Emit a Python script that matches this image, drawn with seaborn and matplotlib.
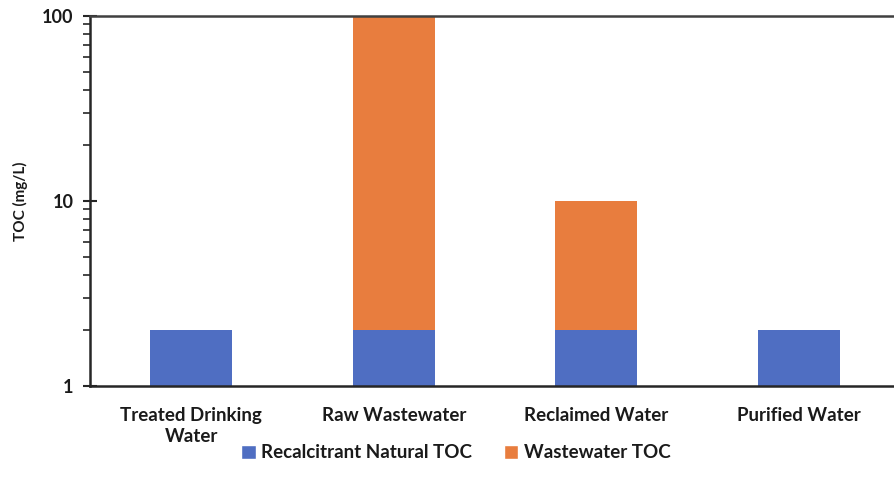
import matplotlib
matplotlib.use("Agg")
import matplotlib.pyplot as plt
import seaborn as sns
import pandas as pd
import numpy as np
from matplotlib.patches import Patch
from matplotlib.ticker import LogLocator, FixedLocator, NullFormatter

categories = ["Treated Drinking\nWater", "Raw Wastewater", "Reclaimed Water", "Purified Water"]
recalcitrant_toc = [2, 2, 2, 2]
wastewater_toc = [0, 98, 8, 0]
series_names = ["Recalcitrant Natural TOC", "Wastewater TOC"]
y_ticks = [1, 10, 100]

blue = "#4F6EC2"
orange = "#E87D3E"

sns.set_theme(style="white")
plt.rcParams['font.family'] = ['Lato', 'DejaVu Sans']

df = pd.DataFrame({
    "cat": categories,
    "rec": recalcitrant_toc,
    "total": np.array(recalcitrant_toc) + np.array(wastewater_toc),
})

fig = plt.figure(figsize=(8.94, 4.88), dpi=100)
ax = fig.add_axes([90/894, 1-386/488, (894-90)/894, (386-16)/488])

sns.barplot(data=df, x="cat", y="total", color=orange, saturation=1, width=0.405, ax=ax, linewidth=0)
sns.barplot(data=df, x="cat", y="rec", color=blue, saturation=1, width=0.405, ax=ax, linewidth=0)

ax.set_yscale("log")
ax.set_ylim(1, 100)
ax.set_xlim(-0.5, 3.47)
ax.yaxis.set_major_locator(FixedLocator(y_ticks))
ax.set_yticklabels([str(t) for t in y_ticks])
ax.yaxis.set_minor_locator(LogLocator(base=10, subs=np.arange(2, 10)))
ax.yaxis.set_minor_formatter(NullFormatter())

ax.set_xlabel("")
ax.set_ylabel("TOC (mg/L)", fontsize=11, fontweight="bold", color="#1a1a1a", labelpad=10)

for s in ["left", "bottom", "top"]:
    ax.spines[s].set_visible(True)
    ax.spines[s].set_color("#262626")
    ax.spines[s].set_linewidth(1.8)
ax.spines["right"].set_visible(False)
ax.spines["top"].set_color("#404040")

ax.tick_params(axis="y", which="major", direction="inout", length=10, width=1.5, color="#262626",
               left=True, labelsize=13, labelcolor="#1a1a1a", pad=7)
ax.tick_params(axis="y", which="minor", direction="out", length=5, width=1.2, color="#262626", left=True)
ax.tick_params(axis="x", which="both", bottom=False, labelsize=13.5, labelcolor="#1a1a1a", pad=9)
for lab in ax.get_xticklabels() + ax.get_yticklabels():
    lab.set_fontweight("bold")
for lab in ax.get_xticklabels():
    lab.set_linespacing(1.3)

handles = [Patch(facecolor=blue, label=series_names[0]), Patch(facecolor=orange, label=series_names[1])]
leg = fig.legend(handles=handles, loc="center", bbox_to_anchor=(0.51, 0.072), ncol=2, frameon=False,
                 prop={"size": 13.5, "weight": "bold"}, handlelength=0.75, handleheight=0.75,
                 handletextpad=0.3, columnspacing=1.7)
for t in leg.get_texts():
    t.set_color("#1a1a1a")

fig.savefig("out.png", dpi=100)
